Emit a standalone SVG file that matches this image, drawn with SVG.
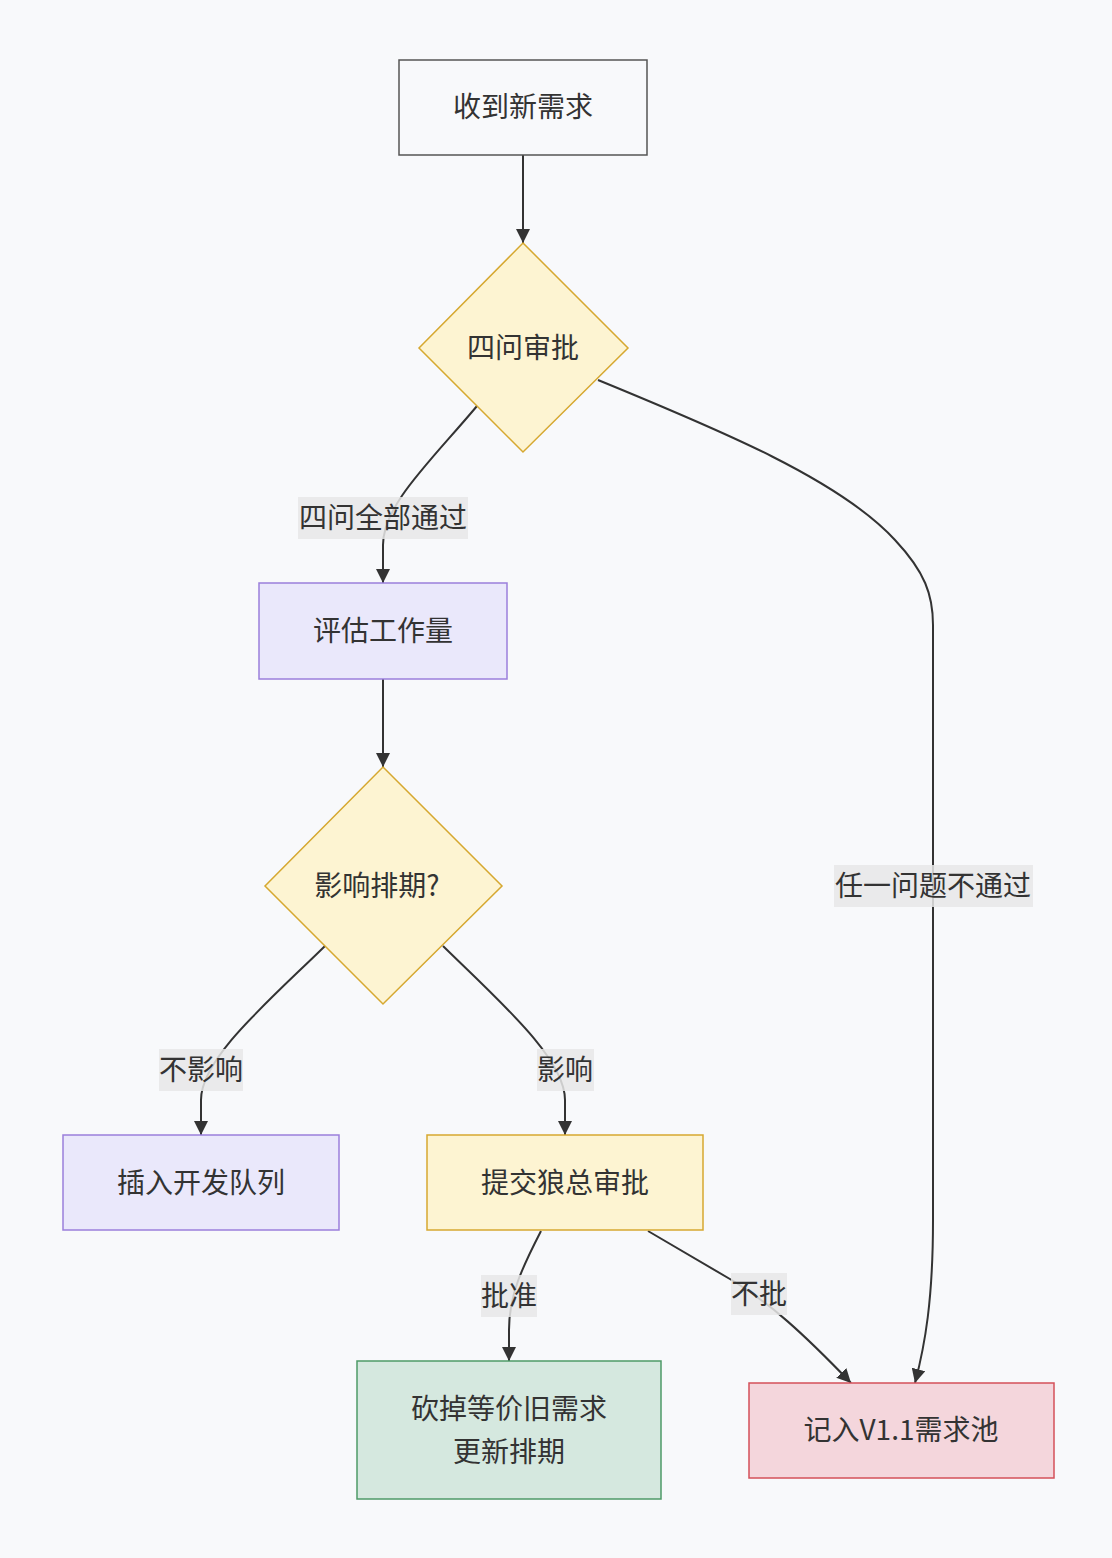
<svg xmlns="http://www.w3.org/2000/svg" width="1112" height="1558" viewBox="0 0 1112 1558">
<style>
text{font-family:"Noto Sans CJK SC","Noto Sans",sans-serif;font-size:28px;fill:#333;text-anchor:middle;dominant-baseline:central}
.edge{fill:none;stroke:#333;stroke-width:2}
.lbl{fill:#e8e8e8;fill-opacity:0.85}
.plain{fill:#f8f9fb;stroke:#555;stroke-width:1.5}
.dec{fill:#fdf4d2;stroke:#d6a830;stroke-width:1.5}
.proc{fill:#eae8fb;stroke:#9b7fdc;stroke-width:1.5}
.warn{fill:#fdf4d2;stroke:#d6a830;stroke-width:1.5}
.ok{fill:#d5e8df;stroke:#4e9a68;stroke-width:1.5}
.bad{fill:#f4d6dc;stroke:#d4505a;stroke-width:1.5}
</style>
<defs>
<marker id="arr" viewBox="0 0 10 10" refX="10" refY="5" markerWidth="14" markerHeight="14" markerUnits="userSpaceOnUse" orient="auto">
<path d="M0,0 L10,5 L0,10 z" fill="#333"/>
</marker>
</defs>
<rect width="1112" height="1558" fill="#f8f9fb"/>
<g id="edges">
<path class="edge" marker-end="url(#arr)" d="M523,155 L523,243"/>
<path class="edge" marker-end="url(#arr)" d="M477,406 C430,462 383,505 383,545 L383,583"/>
<path class="edge" marker-end="url(#arr)" d="M598,380 C720,430 840,480 895,540 C925,572 933,595 933,625 L933,1220 C933,1300 925,1345 915,1383"/>
<path class="edge" marker-end="url(#arr)" d="M383,679 L383,767"/>
<path class="edge" marker-end="url(#arr)" d="M325,946 C270,1000 201,1058 201,1100 L201,1135"/>
<path class="edge" marker-end="url(#arr)" d="M443,946 C498,1000 565,1058 565,1100 L565,1135"/>
<path class="edge" marker-end="url(#arr)" d="M541,1231 C522,1268 509,1295 509,1330 L509,1361"/>
<path class="edge" marker-end="url(#arr)" d="M648,1231 L735,1282 C770,1304 800,1330 851,1383"/>
</g>
<g id="edge-labels">
<rect class="lbl" x="298" y="497" width="170" height="42"/><text x="383" y="516">四问全部通过</text>
<rect class="lbl" x="834" y="865" width="199" height="42"/><text x="933" y="884">任一问题不通过</text>
<rect class="lbl" x="159" y="1049" width="84" height="42"/><text x="201" y="1068">不影响</text>
<rect class="lbl" x="537" y="1049" width="57" height="42"/><text x="565" y="1068">影响</text>
<rect class="lbl" x="481" y="1275" width="56" height="42"/><text x="509" y="1294">批准</text>
<rect class="lbl" x="731" y="1273" width="56" height="42"/><text x="759" y="1292">不批</text>
</g>
<g id="A"><rect class="plain" x="399" y="60" width="248" height="95"/><text x="523" y="105">收到新需求</text></g>
<g id="B"><path class="dec" d="M523,243 L628,348 L523,452 L419,348 z"/><text x="523" y="346">四问审批</text></g>
<g id="C"><rect class="proc" x="259" y="583" width="248" height="96"/><text x="383" y="629">评估工作量</text></g>
<g id="D"><path class="dec" d="M383,767 L502,886 L383,1004 L265,886 z"/><text x="377" y="884">影响排期?</text></g>
<g id="E"><rect class="proc" x="63" y="1135" width="276" height="95"/><text x="201" y="1181">插入开发队列</text></g>
<g id="F"><rect class="warn" x="427" y="1135" width="276" height="95"/><text x="565" y="1181">提交狼总审批</text></g>
<g id="G"><rect class="ok" x="357" y="1361" width="304" height="138"/><text x="509" y="1407">砍掉等价旧需求</text><text x="509" y="1450">更新排期</text></g>
<g id="H"><rect class="bad" x="749" y="1383" width="305" height="95"/><text x="901" y="1428">记入V1.1需求池</text></g>
</svg>
